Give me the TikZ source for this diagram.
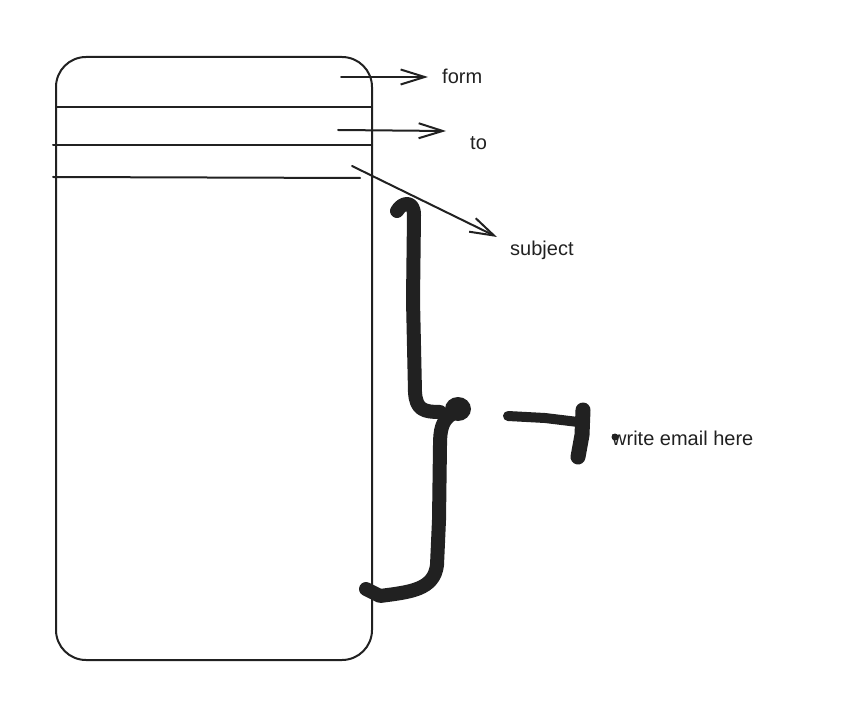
\documentclass[tikz,border=0pt]{standalone}
\usepackage{fontspec}
\setmainfont{Liberation Sans}
\usetikzlibrary{arrows.meta}
\begin{document}
\begin{tikzpicture}[x=1pt,y=-1pt,
  thin line/.style={line width=2pt,draw=black!87,line cap=round},
  arr/.style={thin line,-{Straight Barb[length=24pt,width=15pt,line width=2pt]}},
  brace/.style={line width=14pt,draw=black!87,line cap=round,line join=round},
  lbl/.style={font=\fontsize{20}{24}\selectfont,text=black!87,anchor=west,inner sep=0pt}]
\useasboundingbox (0,0) rectangle (856,708);
% main box
\draw[thin line,rounded corners=30pt] (56,57) rectangle (372,660);
\draw[thin line] (56,107) -- (372,107);
\draw[thin line] (53,145) -- (372,145);
\draw[thin line] (53,177) -- (360,178);
% labels
\node[lbl] (form) at (442,76) {form};
\node[lbl] (to) at (470,143) {to};
\node[lbl] (subject) at (510,250) {subject};
\node[lbl] (write) at (612,438) {write email here};
\coordinate (f0) at (341,77);
\coordinate (f1) at (428,77);
\coordinate (t0) at (338,130);
\coordinate (t1) at (446,131);
\coordinate (s0) at (352,166);
\coordinate (s1) at (497,237);
\draw[arr] (f0) -- (f1);
\draw[arr] (t0) -- (t1);
\draw[arr] (s0) -- (s1);
% brace
\draw[brace] (397,211) .. controls (402,202) and (414,200) .. (414,215)
  -- (413,300) -- (415,392) .. controls (416,410) and (424,412) .. (440,412);
\fill[black!87] (458,409) ellipse (13pt and 12pt);
\draw[brace] (452,414) .. controls (442,420) and (440,430) .. (440,445)
  -- (439,520) -- (437,565) .. controls (434,590) and (410,592) .. (380,596)
  -- (366,589);
% T mark
\draw[brace,line width=10pt] (508,416) -- (545,418) -- (578,422);
\draw[brace,line width=15pt] (583,410) -- (582,435) -- (578,457);
\fill[black!87] (615,437) circle (3.5pt);
\end{tikzpicture}
\end{document}
